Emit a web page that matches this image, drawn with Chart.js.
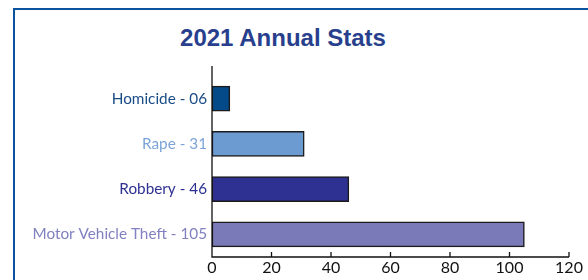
<!DOCTYPE html>
<html>
<head>
<meta charset="utf-8">
<script src="https://cdn.jsdelivr.net/npm/chart.js@4"></script>
<style>
  html, body { margin: 0; padding: 0; background: #fff; }
  #wrap { position: relative; width: 588px; height: 280px; overflow: hidden; }
  #frame { position: absolute; left: 13px; top: 8px; width: 700px; height: 400px;
           border-left: 2px solid #0b539e; border-top: 2px solid #0b539e; }
  #title { position: absolute; left: 0; top: 24px; width: 566px; text-align: center;
           font: bold 24px/28px "Liberation Sans", Arial, sans-serif; color: #283f8d; }
  canvas { position: absolute; left: 0; top: 0; }
</style>
</head>
<body>
<div id="wrap">
  <div id="frame"></div>
  <div id="title">2021 Annual Stats</div>
  <canvas id="statsChart" width="588" height="280"></canvas>
</div>
<script>
// data
const categories = ['Homicide - 06', 'Rape - 31', 'Robbery - 46', 'Motor Vehicle Theft - 105'];
const counts = [6, 31, 46, 105];
const xTicks = [0, 20, 40, 60, 80, 100, 120];

const barColors = ['#044a88', '#6c9bd2', '#2e3192', '#7a7ab8'];
const labelColors = ['#1a4c86', '#7ca4d8', '#2e3192', '#8181c2'];

// axis lines + small tick marks pointing up into the plot
const axisMarks = {
    id: 'axisMarks',
    afterDatasetsDraw(chart) {
        const { ctx, chartArea, scales } = chart;
        const x = scales.x;
        ctx.save();
        ctx.strokeStyle = '#111';
        ctx.lineWidth = 1.3;
        ctx.beginPath();
        ctx.moveTo(chartArea.left, chartArea.top - 10);
        ctx.lineTo(chartArea.left, chartArea.bottom);
        ctx.lineTo(chartArea.right, chartArea.bottom);
        x.ticks.forEach(t => {
            const px = x.getPixelForValue(t.value);
            ctx.moveTo(px, chartArea.bottom);
            ctx.lineTo(px, chartArea.bottom - 5);
        });
        ctx.stroke();
        ctx.restore();
    }
};

const ctx = document.getElementById('statsChart').getContext('2d');
new Chart(ctx, {
    type: 'bar',
    data: {
        labels: categories,
        datasets: [{
            data: counts,
            backgroundColor: barColors,
            borderColor: '#1b1b1b',
            borderWidth: 1.5,
            borderSkipped: false,
            barThickness: 25
        }]
    },
    options: {
        indexAxis: 'y',
        responsive: false,
        animation: false,
        layout: { padding: { top: 76, left: 12, right: 19, bottom: 1.8 } },
        plugins: {
            legend: { display: false },
            tooltip: { enabled: false },
            title: { display: false }
        },
        scales: {
            x: {
                min: xTicks[0],
                max: xTicks[xTicks.length - 1],
                grid: { display: false, drawTicks: false },
                border: { display: false },
                ticks: {
                    stepSize: xTicks[1] - xTicks[0],
                    padding: 1,
                    color: '#111',
                    font: { family: 'Lato', size: 16 }
                }
            },
            y: {
                grid: { display: false, drawTicks: false },
                border: { display: false },
                afterFit: s => { s.width = 200; },
                ticks: {
                    padding: 5,
                    color: c => labelColors[c.index],
                    font: { family: 'Lato', size: 15.3 }
                }
            }
        }
    },
    plugins: [axisMarks]
});
</script>
</body>
</html>
